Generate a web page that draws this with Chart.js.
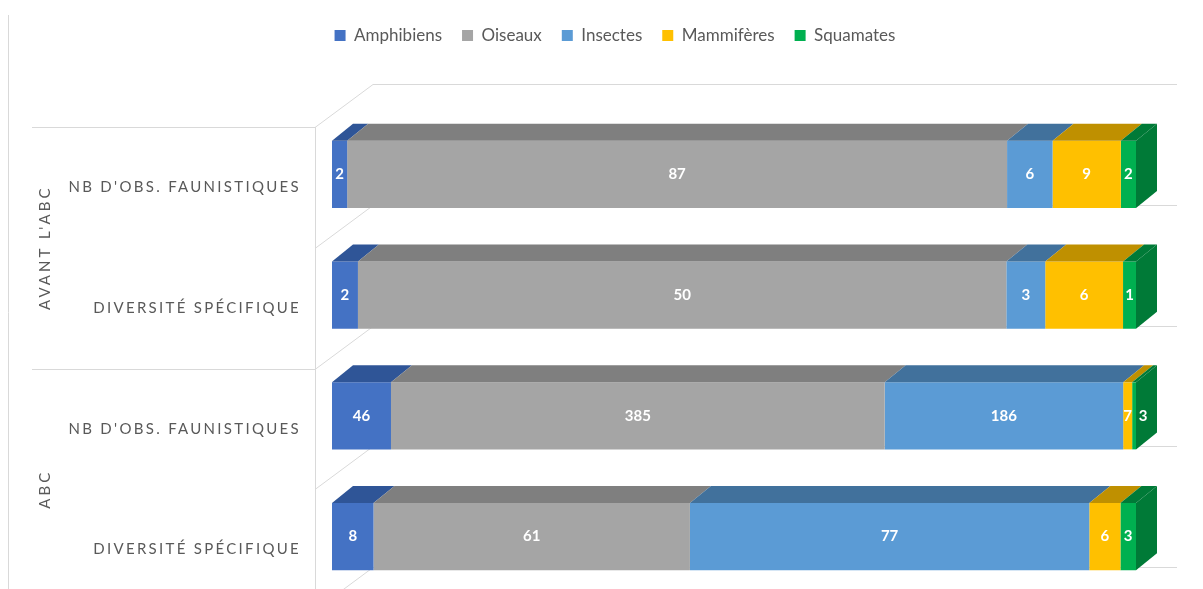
<!DOCTYPE html>
<html lang="fr">
<head>
<meta charset="UTF-8">
<title>Observations faunistiques</title>
<style>
  html, body { margin: 0; padding: 0; background: #fff; overflow: hidden; }
  #wrap { width: 1203px; height: 610px; position: relative; }
</style>
</head>
<body>
<div id="wrap"><canvas id="myChart"></canvas></div>
<script src="https://cdn.jsdelivr.net/npm/chart.js"></script>
<script>
// données
const groupes = ["AVANT L'ABC", "ABC"];
const categories = ["NB D'OBS. FAUNISTIQUES", "DIVERSITÉ SPÉCIFIQUE", "NB D'OBS. FAUNISTIQUES", "DIVERSITÉ SPÉCIFIQUE"];
const groupeDeCategorie = [0, 0, 1, 1];
const series = ["Amphibiens", "Oiseaux", "Insectes", "Mammifères", "Squamates"];
const amphibiens = [2, 2, 46, 8];
const oiseaux = [87, 50, 385, 61];
const insectes = [6, 3, 186, 77];
const mammiferes = [9, 6, 7, 6];
const squamates = [2, 1, 3, 3];

const valeurs = [amphibiens, oiseaux, insectes, mammiferes, squamates];
const couleurs = ['#4472C4', '#A5A5A5', '#5B9BD5', '#FFC000', '#00B050'];
const couleursDessus = ['#2F5597', '#7F7F7F', '#41719C', '#BF9000', '#007A37'];
const couleurCote = '#007A37';

const totaux = categories.map((c, i) => valeurs.reduce((s, v) => s + v[i], 0));

// effet 3D
const D3 = { dx: 21, dy: -17 };
const MUR = { dx: 58, dy: -43, decal: 13, gauche: 17, droite: 41 };
const TEXTE = '#595959';
const LIGNE = '#D9D9D9';

const relief = {
    id: 'relief',
    beforeInit(chart) {
        const fit = chart.legend.fit;
        chart.legend.fit = function () { fit.call(this); this.height += 60; };
    },
    beforeDatasetsDraw(chart) {
        const { ctx, chartArea } = chart;
        const y = chart.scales.y;
        const pas = y.getPixelForValue(1) - y.getPixelForValue(0);
        const xMur = chartArea.left - MUR.gauche;
        const bords = [];
        for (let i = 0; i <= categories.length; i++) {
            bords.push(y.getPixelForValue(0) - pas / 2 + i * pas + MUR.decal);
        }
        ctx.save();
        ctx.strokeStyle = LIGNE;
        ctx.lineWidth = 1;
        ctx.beginPath();
        ctx.moveTo(8.5, 15);
        ctx.lineTo(8.5, chart.height);
        ctx.moveTo(xMur + 0.5, bords[0]);
        ctx.lineTo(xMur + 0.5, chart.height);
        bords.forEach(b => {
            b = Math.round(b) + 0.5;
            ctx.moveTo(xMur, b);
            ctx.lineTo(xMur + MUR.dx, b + MUR.dy);
            ctx.lineTo(chartArea.right + MUR.droite, b + MUR.dy);
        });
        bords.forEach((b, i) => {
            if (i === 0 || i === categories.length || groupeDeCategorie[i] !== groupeDeCategorie[i - 1]) {
                b = Math.round(b) + 0.5;
                ctx.moveTo(32, b);
                ctx.lineTo(xMur, b);
            }
        });
        ctx.stroke();

        // libellés des catégories
        ctx.fillStyle = TEXTE;
        ctx.font = '15px Lato';
        ctx.letterSpacing = '2.3px';
        ctx.textAlign = 'right';
        ctx.textBaseline = 'middle';
        categories.forEach((c, i) => {
            ctx.fillText(c, xMur - 14, y.getPixelForValue(i) + MUR.decal);
        });
        // libellés des groupes
        ctx.letterSpacing = '3px';
        groupes.forEach((g, gi) => {
            const idx = groupeDeCategorie.map((v, i) => v === gi ? i : -1).filter(i => i >= 0);
            const haut = bords[idx[0]];
            const bas = bords[idx[idx.length - 1] + 1];
            ctx.save();
            ctx.translate(45, (haut + bas) / 2);
            ctx.rotate(-Math.PI / 2);
            ctx.textAlign = 'center';
            ctx.fillText(g, 0, 0);
            ctx.restore();
        });
        ctx.restore();
    },
    afterDatasetsDraw(chart) {
        const { ctx } = chart;
        const derniere = chart.data.datasets.length - 1;
        ctx.save();
        chart.data.datasets.forEach((ds, di) => {
            const meta = chart.getDatasetMeta(di);
            meta.data.forEach(el => {
                const g = Math.min(el.base, el.x), d = Math.max(el.base, el.x);
                const h = el.y - el.height / 2, b = el.y + el.height / 2;
                ctx.fillStyle = couleursDessus[di];
                ctx.beginPath();
                ctx.moveTo(g, h);
                ctx.lineTo(d, h);
                ctx.lineTo(d + D3.dx, h + D3.dy);
                ctx.lineTo(g + D3.dx, h + D3.dy);
                ctx.closePath();
                ctx.fill();
                if (di === derniere) {
                    ctx.fillStyle = couleurCote;
                    ctx.beginPath();
                    ctx.moveTo(d, h);
                    ctx.lineTo(d + D3.dx, h + D3.dy);
                    ctx.lineTo(d + D3.dx, b + D3.dy);
                    ctx.lineTo(d, b);
                    ctx.closePath();
                    ctx.fill();
                }
            });
        });
        // étiquettes de données
        ctx.fillStyle = '#FFFFFF';
        ctx.font = 'bold 15px Lato';
        ctx.textAlign = 'center';
        ctx.textBaseline = 'middle';
        chart.data.datasets.forEach((ds, di) => {
            const meta = chart.getDatasetMeta(di);
            meta.data.forEach((el, i) => {
                const texte = String(valeurs[di][i]);
                const larg = Math.abs(el.x - el.base);
                let x = (el.base + el.x) / 2;
                // segment final trop étroit : l'étiquette passe sur la face de côté
                if (di === derniere && larg < ctx.measureText(texte).width) {
                    x = Math.max(el.base, el.x) + 7;
                }
                ctx.fillText(texte, x, el.y);
            });
        });
        ctx.restore();
    }
};

const ctx = document.getElementById('myChart');
new Chart(ctx, {
    type: 'bar',
    data: {
        labels: categories,
        datasets: series.map((s, di) => ({
            label: s,
            data: valeurs[di].map((v, i) => v / totaux[i] * 100),
            backgroundColor: couleurs[di],
            borderWidth: 0,
            barPercentage: 0.555,
            categoryPercentage: 1
        }))
    },
    options: {
        indexAxis: 'y',
        responsive: true,
        maintainAspectRatio: false,
        animation: false,
        layout: { padding: { top: 7, right: 67, bottom: 13, left: 94 } },
        scales: {
            x: { stacked: true, min: 0, max: 100, display: false },
            y: {
                stacked: true,
                grid: { display: false },
                border: { display: false },
                ticks: { display: false },
                afterFit(scale) { scale.width = 238; }
            }
        },
        plugins: {
            legend: {
                position: 'top',
                labels: {
                    color: TEXTE,
                    font: { family: 'Lato', size: 17 },
                    boxWidth: 11,
                    boxHeight: 11,
                    padding: 20
                }
            },
            tooltip: { enabled: false }
        }
    },
    plugins: [relief]
});
</script>
</body>
</html>
